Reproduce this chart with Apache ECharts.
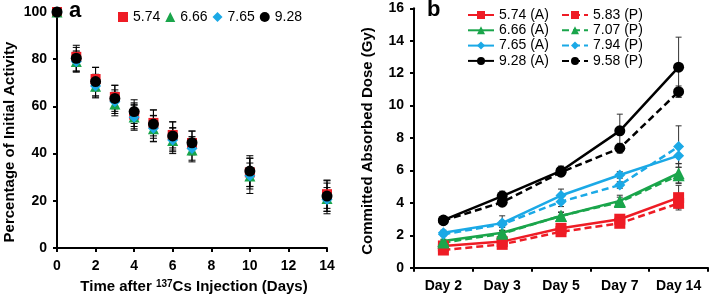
<!DOCTYPE html>
<html>
<head>
<meta charset="utf-8">
<script src="https://cdn.jsdelivr.net/npm/echarts@6/dist/echarts.min.js"></script>
<style>html,body{margin:0;padding:0;background:#fff}#c{width:710px;height:296px}</style>
</head>
<body>
<div id="c"></div>
<script>
// ---- Panel a data ----
const daysA = [0, 1, 2, 3, 4, 5, 6, 7, 10, 14];
const namesA = ['5.74', '6.66', '7.65', '9.28'];
const red574 = [100, 81, 71.6, 64, 56.5, 53, 47.9, 44.5, 32, 22.8];
const green666 = [100, 79, 68.5, 61, 55.5, 50.5, 45.5, 41.5, 30.5, 21];
const blue765 = [100, 79, 68.6, 62, 55.4, 50.7, 45.8, 42.2, 30.6, 20.6];
const black928 = [100, 80.4, 70.5, 63.4, 57.8, 52.5, 47.5, 44.6, 32.6, 22];
const errRed574 = [0, 4, 5, 5, 5, 5.5, 5.5, 5, 6, 6];
const errGreen666 = [0, 4, 4.5, 5, 5, 5.5, 5.5, 5, 5.5, 6.5];
const errBlue765 = [0, 4.5, 5, 5, 5.5, 5.5, 5, 5, 7.5, 5];
const errBlack928 = [0, 5.5, 6, 5.5, 5, 6, 6, 5, 6.5, 6.5];

// ---- Panel b data ----
const daysB = ['Day 2', 'Day 3', 'Day 5', 'Day 7', 'Day 14'];
const redA = [1.34, 1.61, 2.43, 2.99, 4.32];
const redP = [1.09, 1.44, 2.22, 2.74, 3.97];
const greenA = [1.65, 2.16, 3.19, 4.12, 5.83];
const greenP = [1.55, 2.1, 3.2, 4.05, 5.7];
const blueA = [2.16, 2.75, 4.45, 5.72, 6.91];
const blueP = [2.06, 2.68, 4.07, 5.1, 7.47];
const blackA = [2.94, 4.42, 5.97, 8.44, 12.37];
const blackP = [2.9, 4.04, 5.89, 7.37, 10.86];
const errRedA = [0.1, 0.15, 0.15, 0.25, 0.76];
const errRedP = [0.1, 0.1, 0.15, 0.2, 0.3];
const errGreenA = [0.1, 0.15, 0.25, 0.35, 0.6];
const errGreenP = [0.1, 0.15, 0.2, 0.3, 0.5];
const errBlueA = [0.15, 0.45, 0.4, 0.2, 0.5];
const errBlueP = [0.1, 0.2, 0.3, 0.2, 1.28];
const errBlackA = [0.15, 0.3, 0.3, 1.03, 1.85];
const errBlackP = [0.1, 0.15, 0.2, 0.3, 0.35];

const C_RED = '#ee1c25', C_GREEN = '#1aa54b', C_BLUE = '#1ba9e6', C_BLACK = '#000000';
const FONT = '"Liberation Sans", Arial, sans-serif';

function errData(xs, ys, es) {
  return xs.map((x, i) => [x, ys[i] - es[i], ys[i] + es[i]]);
}
function errSeries(xAxisIndex, yAxisIndex, data, color, cap, z) {
  return {
    type: 'custom', xAxisIndex, yAxisIndex, z: z, silent: true,
    encode: { x: 0, y: [1, 2] },
    data: data,
    renderItem: function (params, api) {
      const x = api.value(0);
      const lo = api.coord([x, api.value(1)]);
      const hi = api.coord([x, api.value(2)]);
      const st = { stroke: color, lineWidth: 1 };
      return { type: 'group', children: [
        { type: 'line', shape: { x1: hi[0], y1: hi[1], x2: lo[0], y2: lo[1] }, style: st },
        { type: 'line', shape: { x1: hi[0] - cap, y1: hi[1], x2: hi[0] + cap, y2: hi[1] }, style: st },
        { type: 'line', shape: { x1: lo[0] - cap, y1: lo[1], x2: lo[0] + cap, y2: lo[1] }, style: st }
      ] };
    }
  };
}

const idxB = daysB.map((d, i) => i);

const scatterA = [
  [namesA[0], red574, C_RED, 'rect', 10],
  [namesA[1], green666, C_GREEN, 'triangle', 11],
  [namesA[2], blue765, C_BLUE, 'diamond', 11],
  [namesA[3], black928, C_BLACK, 'circle', 11]
].map(([n, arr, col, sym, sz]) => ({
  name: n, type: 'scatter', xAxisIndex: 0, yAxisIndex: 0, z: 5,
  symbol: sym, symbolSize: sz, itemStyle: { color: col, opacity: 1 },
  data: daysA.map((d, i) => [d, arr[i]])
}));

const errA = [
  errSeries(0, 0, errData(daysA, red574, errRed574), '#000', 3.5, 3),
  errSeries(0, 0, errData(daysA, green666, errGreen666), '#000', 3.5, 3),
  errSeries(0, 0, errData(daysA, blue765, errBlue765), '#000', 3.5, 3),
  errSeries(0, 0, errData(daysA, black928, errBlack928), '#000', 3.5, 3)
];

function lineB(name, arr, col, sym, sz, dashed) {
  return {
    name: name, type: 'line', xAxisIndex: 1, yAxisIndex: 1, z: 5,
    symbol: sym, symbolSize: sz,
    itemStyle: { color: col },
    lineStyle: { color: col, width: 2.5, type: dashed ? [7, 4] : 'solid' },
    data: arr
  };
}
const linesB = [
  lineB('5.74 (A)', redA, C_RED, 'rect', 11, false),
  lineB('5.83 (P)', redP, C_RED, 'rect', 11, true),
  lineB('6.66 (A)', greenA, C_GREEN, 'triangle', 12, false),
  lineB('7.07 (P)', greenP, C_GREEN, 'triangle', 12, true),
  lineB('7.65 (A)', blueA, C_BLUE, 'diamond', 11, false),
  lineB('7.94 (P)', blueP, C_BLUE, 'diamond', 11, true),
  lineB('9.28 (A)', blackA, C_BLACK, 'circle', 11, false),
  lineB('9.58 (P)', blackP, C_BLACK, 'circle', 11, true)
];
const errB = [
  [redA, errRedA], [redP, errRedP], [greenA, errGreenA], [greenP, errGreenP],
  [blueA, errBlueA], [blueP, errBlueP], [blackA, errBlackA], [blackP, errBlackP]
].map(([v, e]) => errSeries(1, 1, errData(idxB, v, e), '#333', 3, 3));

const axisLabelStyle = { color: '#000', fontWeight: 'bold', fontSize: 14, fontFamily: FONT };
const axisLineStyle = { show: true, lineStyle: { color: '#000', width: 2 } };

const chart = echarts.init(document.getElementById('c'), null, { renderer: 'canvas' });
chart.setOption({
  animation: false,
  backgroundColor: '#fff',
  grid: [
    { left: 57, top: 12, width: 270, height: 236 },
    { left: 414, top: 8.3, width: 294, height: 259.4 }
  ],
  xAxis: [
    { gridIndex: 0, type: 'value', min: 0, max: 14, interval: 2,
      axisLine: axisLineStyle, axisTick: { show: true, length: 4, lineStyle: { color: '#000', width: 2 } },
      splitLine: { show: false }, axisLabel: Object.assign({ margin: 11 }, axisLabelStyle) },
    { gridIndex: 1, type: 'category', data: daysB, boundaryGap: true,
      axisLine: axisLineStyle, axisTick: { show: true, length: 4, lineStyle: { color: '#000', width: 2 } },
      splitLine: { show: false }, axisLabel: Object.assign({ margin: 11 }, axisLabelStyle) }
  ],
  yAxis: [
    { gridIndex: 0, type: 'value', min: 0, max: 100, interval: 20,
      axisLine: axisLineStyle, axisTick: { show: true, length: 4, lineStyle: { color: '#000', width: 2 } },
      splitLine: { show: false }, axisLabel: Object.assign({ margin: 10 }, axisLabelStyle) },
    { gridIndex: 1, type: 'value', min: 0, max: 16, interval: 2,
      axisLine: axisLineStyle, axisTick: { show: true, length: 4, lineStyle: { color: '#000', width: 2 } },
      splitLine: { show: false }, axisLabel: Object.assign({ margin: 10 }, axisLabelStyle) }
  ],
  legend: [
    { data: namesA, left: 118, top: 10, padding: 0, orient: 'horizontal', itemWidth: 10, itemHeight: 10, itemGap: 5,
      textStyle: { fontSize: 14, color: '#000', fontFamily: FONT } },
    { data: ['5.74 (A)', '6.66 (A)', '7.65 (A)', '9.28 (A)'], left: 467, top: 8, padding: 0, orient: 'vertical',
      itemWidth: 26, itemHeight: 10, itemGap: 1.3,
      textStyle: { fontSize: 14, lineHeight: 14, color: '#000', fontFamily: FONT } },
    { data: ['5.83 (P)', '7.07 (P)', '7.94 (P)', '9.58 (P)'], left: 561, top: 8, padding: 0, orient: 'vertical',
      itemWidth: 26, itemHeight: 10, itemGap: 1.3,
      textStyle: { fontSize: 14, lineHeight: 14, color: '#000', fontFamily: FONT } }
  ],
  graphic: [
    { type: 'text', left: 69, top: 0, style: { text: 'a', font: 'bold 22px ' + FONT, fill: '#000' } },
    { type: 'text', left: 427, top: -1, style: { text: 'b', font: 'bold 22px ' + FONT, fill: '#000' } },
    { type: 'text', x: 10, y: 142, rotation: Math.PI / 2,
      style: { text: 'Percentage of Initial Activity', font: 'bold 15px ' + FONT, fill: '#000', align: 'center', verticalAlign: 'middle' } },
    { type: 'text', x: 368, y: 141, rotation: Math.PI / 2,
      style: { text: 'Committed Absorbed Dose (Gy)', font: 'bold 15px ' + FONT, fill: '#000', align: 'center', verticalAlign: 'middle' } },
    { type: 'text', x: 194, y: 287,
      style: { text: '{b|Time after }{s|137}{b|Cs Injection (Days)}', align: 'center', verticalAlign: 'middle',
        rich: { b: { font: 'bold 15px ' + FONT, fill: '#000', color: '#000' },
                s: { font: 'bold 10px ' + FONT, color: '#000', padding: [0, 0, 6, 0] } } } }
  ],
  series: [].concat(errA, scatterA, errB, linesB)
});
</script>
</body>
</html>
